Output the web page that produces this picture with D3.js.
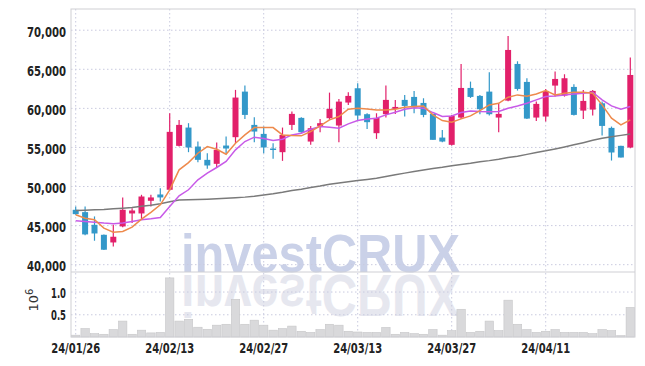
<!DOCTYPE html>
<html>
<head>
<meta charset="utf-8">
<script src="https://cdn.jsdelivr.net/npm/d3@7"></script>
<style>
  body { margin: 0; background: #fff; }
  svg { display: block; }
  text { font-family: "DejaVu Sans", sans-serif; }
</style>
</head>
<body>
<svg id="chart" width="645" height="366"></svg>
<script>
const dates = [
  "24/01/26","24/01/29","24/01/30","24/01/31","24/02/01","24/02/02","24/02/05","24/02/06","24/02/07","24/02/08",
  "24/02/13","24/02/14","24/02/15","24/02/16","24/02/19","24/02/20","24/02/21","24/02/22","24/02/23","24/02/26",
  "24/02/27","24/02/28","24/02/29","24/03/04","24/03/05","24/03/06","24/03/07","24/03/08","24/03/11","24/03/12",
  "24/03/13","24/03/14","24/03/15","24/03/18","24/03/19","24/03/20","24/03/21","24/03/22","24/03/25","24/03/26",
  "24/03/27","24/03/28","24/03/29","24/04/01","24/04/02","24/04/03","24/04/04","24/04/05","24/04/08","24/04/09",
  "24/04/11","24/04/12","24/04/15","24/04/16","24/04/17","24/04/18","24/04/19","24/04/22","24/04/23","24/04/24"
];
const opens = [
  46960,46660,45040,43760,42780,44830,46490,46490,48110,48920,
  49520,55140,57480,55050,53350,52840,55180,56250,62080,57820,
  56670,54800,54330,57820,58720,55690,57690,58680,57740,60680,
  62510,59190,56760,59190,59870,61020,61400,60630,59230,56200,
  55270,58760,62550,61530,62080,58760,60930,65620,63320,58760,
  58890,62850,61570,62680,59650,59780,60590,57440,55140,54930
];
const highs = [
  47390,47390,46110,43800,45040,48540,47170,48880,48880,49730,
  59310,58460,58040,55690,54200,55560,56330,62300,62850,58800,
  57610,55480,57480,59530,58800,57690,58590,61950,61150,62000,
  63150,59310,59310,62850,61020,61660,62170,61230,59230,57180,
  59100,65620,63360,61660,64550,60590,69200,65960,63790,60800,
  62420,64640,64300,63020,62300,62300,60800,57610,55140,66430
];
const lows = [
  46320,43700,43000,41800,42270,44740,45260,45680,47390,48020,
  49430,55050,54330,53050,52200,52410,54200,55480,58590,55610,
  54200,53480,53220,57180,56800,55270,56890,58460,55610,60380,
  58460,57310,56030,58760,59230,58890,59310,58800,55910,55610,
  55180,58590,61270,59190,59020,56890,60850,62210,58590,58330,
  58250,61440,61440,59020,58590,59020,56460,53260,53650,54840
];
const closes = [
  46400,43810,43930,41850,43510,46960,46870,48660,48540,48540,
  56930,57820,54930,53350,52630,54630,54800,61320,59100,56970,
  54930,54700,56540,59230,56890,57400,58040,59870,60800,61530,
  59020,58170,58720,61020,60120,60250,60080,59100,55910,55690,
  58970,62550,61400,59830,59190,59230,67410,62420,58630,60510,
  62170,63700,63790,59100,60890,62170,57690,54290,53650,64210
];
const maShort = [
  46320,45890,45680,44620,44100,44190,44740,45770,46620,47600,
  49520,52070,53000,54200,55050,54710,54070,55480,56540,57480,
  57480,57480,56540,56460,56420,56970,57690,58460,58890,59830,
  59960,59870,59740,59740,59830,60080,60170,60250,59100,58380,
  58160,58590,58970,59650,60380,60590,61360,61660,61490,61780,
  62210,61660,61870,62000,62000,61870,60380,58680,57820,58460
];
const maMid = [
  45550,45470,45380,45260,45170,45260,45470,45680,45810,45980,
  47390,48750,49520,50790,51650,52370,53140,54630,55690,56250,
  56080,55820,55990,56540,56760,57270,57610,57520,57400,57950,
  58380,58590,58680,59100,59440,59830,60000,59960,59400,58890,
  58970,59400,59610,59530,59490,59530,59960,60250,60590,61020,
  61440,61530,61660,61780,61870,62000,61020,60250,59830,60170
];
const maLong = [
  46870,46900,46950,47000,47100,47170,47250,47400,47550,47730,
  48000,48200,48250,48280,48320,48380,48430,48500,48580,48700,
  48850,49000,49200,49430,49600,49800,50000,50240,50400,50550,
  50710,50850,51000,51220,51450,51650,51850,52050,52250,52400,
  52580,52750,52900,53100,53250,53430,53650,53800,54050,54300,
  54500,54750,55000,55270,55550,55850,56120,56300,56480,56670
];
const volumes = [
  0.04,0.185,0.074,0.06,0.163,0.35,0.06,0.15,0.09,0.10,
  1.30,0.35,0.39,0.215,0.17,0.26,0.28,0.83,0.28,0.37,
  0.26,0.15,0.185,0.24,0.126,0.10,0.163,0.28,0.26,0.126,
  0.11,0.10,0.10,0.21,0.06,0.10,0.074,0.06,0.163,0.04,
  0.14,0.61,0.10,0.126,0.35,0.14,0.81,0.28,0.163,0.10,
  0.126,0.163,0.10,0.10,0.10,0.074,0.163,0.14,0.03,0.65
];
const priceTicks = [40000, 45000, 50000, 55000, 60000, 65000, 70000];
const volTicks = [0.5, 1.0];
const dateTicks = ["24/01/26", "24/02/13", "24/02/27", "24/03/13", "24/03/27", "24/04/11"];

let svg = d3.select("#chart");
let padL = 71, padR = 635, padT = 9, mid = 272, padB = 337;

let x = d3.scaleBand().domain(dates).range([padL, padR]);
let xc = (d) => x(d) + x.bandwidth() / 2;
let y = d3.scaleLinear().domain([39000, 72650]).range([mid, padT]);
let yv = d3.scaleLinear().domain([0, 1.43]).range([padB, mid]);

let gridColor = "#c9cadf";
let upColor = "#e2206a";
let downColor = "#3398c9";

// watermark + reflection
svg.append("text")
  .attr("x", 181).attr("y", mid)
  .attr("textLength", 279).attr("lengthAdjust", "spacingAndGlyphs")
  .style("font-family", "'Liberation Sans', Arial, sans-serif")
  .style("font-weight", "bold").style("font-size", "53px")
  .attr("fill", "#cad1e8")
  .text("investCRUX");
svg.append("text")
  .attr("transform", `translate(0,${mid + 3}) scale(1,-1.1) translate(0,${-mid})`)
  .attr("x", 181).attr("y", mid)
  .attr("textLength", 279).attr("lengthAdjust", "spacingAndGlyphs")
  .style("font-family", "'Liberation Sans', Arial, sans-serif")
  .style("font-weight", "bold").style("font-size", "53px")
  .attr("fill", "#e6e7ef")
  .text("investCRUX");

// price axis + horizontal grid
let ya = svg.append("g")
  .attr("transform", `translate(${padL},0)`)
  .call(d3.axisLeft(y).tickValues(priceTicks).tickFormat(d3.format(",")).tickSize(-(padR - padL)).tickPadding(5));
ya.select(".domain").remove();
ya.selectAll(".tick line").attr("stroke", gridColor).attr("stroke-dasharray", "1.5,2.5");
ya.selectAll(".tick text")
  .attr("fill", "#222").style("font-size", "14px").style("font-weight", "bold")
  .attr("textLength", 39).attr("lengthAdjust", "spacingAndGlyphs")
  .attr("dy", "0.45em");

// volume axis + grid
let va = svg.append("g")
  .attr("transform", `translate(${padL},0)`)
  .call(d3.axisLeft(yv).tickValues(volTicks).tickFormat(d3.format(".1f")).tickSize(-(padR - padL)).tickPadding(5));
va.select(".domain").remove();
va.selectAll(".tick line").attr("stroke", gridColor).attr("stroke-dasharray", "1.5,2.5");
va.selectAll(".tick text")
  .attr("fill", "#222").style("font-size", "14px").style("font-weight", "bold")
  .attr("textLength", 15).attr("lengthAdjust", "spacingAndGlyphs")
  .attr("dy", "0.4em");

let unit = svg.append("text")
  .attr("transform", "translate(38,300) rotate(-90)")
  .attr("text-anchor", "middle")
  .attr("fill", "#333").style("font-size", "13px");
unit.append("tspan").text("10");
unit.append("tspan").attr("dy", "-5").style("font-size", "10px").text("6");

// vertical grid
svg.append("g").selectAll("line")
  .data(dateTicks)
  .enter()
  .append("line")
  .attr("x1", (d) => xc(d)).attr("x2", (d) => xc(d))
  .attr("y1", padT).attr("y2", padB)
  .attr("stroke", gridColor).attr("stroke-dasharray", "1.5,2.5");

// date axis
let xa = svg.append("g")
  .attr("transform", `translate(0,${padB})`)
  .call(d3.axisBottom(x).tickValues(dateTicks).tickSize(0).tickPadding(6));
xa.select(".domain").remove();
xa.selectAll(".tick text")
  .attr("fill", "#222").style("font-size", "14px").style("font-weight", "bold")
  .attr("textLength", 49).attr("lengthAdjust", "spacingAndGlyphs");

// volume bars
svg.append("g").selectAll("rect")
  .data(volumes)
  .enter()
  .append("rect")
  .attr("x", (d, i) => x(dates[i]) + 0.5)
  .attr("width", x.bandwidth() - 1)
  .attr("y", (d) => yv(d))
  .attr("height", (d) => yv(0) - yv(d))
  .attr("fill", "#d9d9db")
  .attr("stroke", "#c6c6c8")
  .attr("stroke-width", 0.6);

// panel frame
svg.append("rect")
  .attr("x", padL).attr("y", padT)
  .attr("width", padR - padL).attr("height", padB - padT)
  .attr("fill", "none").attr("stroke", "#cfcfd4");
svg.append("line")
  .attr("x1", padL).attr("x2", padR).attr("y1", mid).attr("y2", mid)
  .attr("stroke", "#cfcfd4");

// candles
let candles = svg.append("g").selectAll("g")
  .data(dates)
  .enter()
  .append("g");
candles.append("line")
  .attr("x1", (d) => xc(d)).attr("x2", (d) => xc(d))
  .attr("y1", (d, i) => y(highs[i])).attr("y2", (d, i) => y(lows[i]))
  .attr("stroke", (d, i) => closes[i] >= opens[i] ? upColor : downColor)
  .attr("stroke-width", 1.2);
candles.append("rect")
  .attr("x", (d) => xc(d) - 3)
  .attr("width", 6)
  .attr("y", (d, i) => y(Math.max(opens[i], closes[i])))
  .attr("height", (d, i) => Math.max(1.5, Math.abs(y(opens[i]) - y(closes[i]))))
  .attr("fill", (d, i) => closes[i] >= opens[i] ? upColor : downColor);

// moving averages
let line = d3.line().x((d, i) => xc(dates[i])).y((d) => y(d));
svg.append("path").datum(maLong).attr("d", line)
  .attr("fill", "none").attr("stroke", "#7a7a7a").attr("stroke-width", 1.5);
svg.append("path").datum(maMid).attr("d", line)
  .attr("fill", "none").attr("stroke", "#c85ae8").attr("stroke-width", 1.5);
svg.append("path").datum(maShort).attr("d", line)
  .attr("fill", "none").attr("stroke", "#ee8a4c").attr("stroke-width", 1.5);
</script>
</body>
</html>
